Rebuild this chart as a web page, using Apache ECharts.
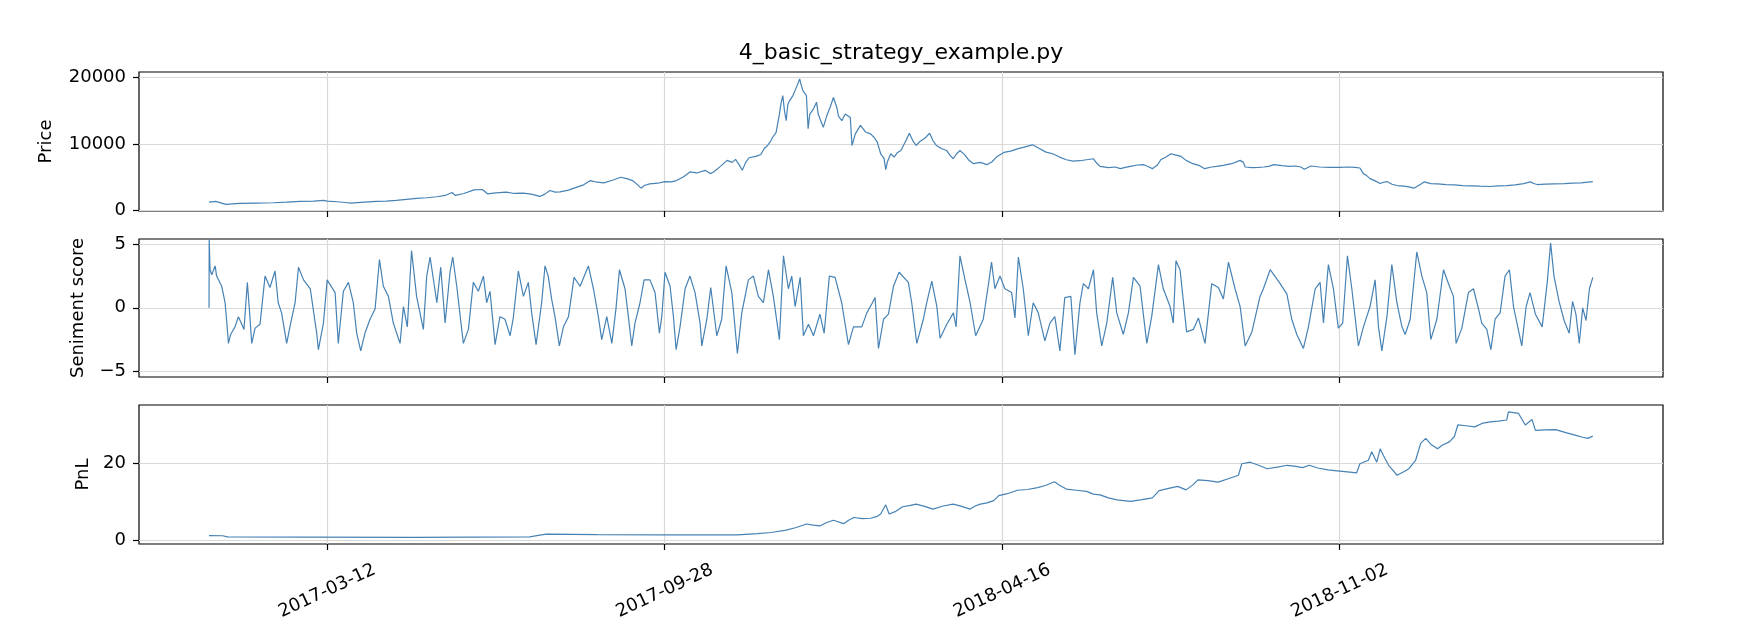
<!DOCTYPE html>
<html>
<head>
<meta charset="utf-8">
<script src="https://cdn.jsdelivr.net/npm/echarts@6.0.0/dist/echarts.min.js"></script>
<style>
html,body{margin:0;padding:0;background:#fff;}
#chart{width:1738px;height:642px;}
</style>
</head>
<body>
<div id="chart"></div>
<script>
// ---- data (x = days since 2017-01-01) ----
const titleText = '4_basic_strategy_example.py';
const xTickDays = [70, 270, 470, 670];
const xTickLabels = ['2017-03-12', '2017-09-28', '2018-04-16', '2018-11-02'];

const priceTicks = [0, 10000, 20000];
const sentTicks = [-5, 0, 5];
const pnlTicks = [0, 20];

const priceData = [
[0,1200],[4,1300],[10,850],[18,1000],[28,1050],[38,1100],[46,1180],[54,1300],[62,1350],[68,1450],[70,1350],[76,1250],[82,1100],[84,1050],[92,1200],[99,1300],[105,1350],[111,1450],[117,1600],[123,1750],[129,1850],[135,2000],[140,2200],[144,2650],[146,2200],[151,2500],[157,3050],[162,3100],[165,2450],[170,2600],[176,2700],[181,2500],[186,2550],[191,2400],[196,2050],[199,2400],[202,2950],[205,2700],[208,2750],[213,3000],[218,3450],[222,3800],[226,4450],[230,4200],[234,4100],[239,4500],[244,4950],[248,4700],[251,4450],[254,3800],[256,3300],[258,3700],[261,3950],[266,4050],[270,4300],[274,4250],[277,4450],[281,5000],[285,5750],[289,5600],[294,6000],[297,5500],[299,5750],[303,6600],[307,7500],[310,7200],[312,7650],[314,6900],[316,6000],[318,7200],[320,7900],[324,8100],[327,8400],[329,9300],[331,9750],[333,10500],[334,11000],[336,11700],[337,12000],[338,14500],[339,16200],[340,17300],[341,15000],[342,13500],[343,16000],[344,16500],[346,17300],[348,18500],[350,19800],[351,18800],[352,18000],[354,17300],[355,12300],[356,14500],[358,15200],[360,16300],[361,14500],[362,13800],[364,12500],[366,14200],[368,15500],[370,17000],[372,15500],[373,14200],[375,13500],[377,14500],[380,14000],[381,9750],[383,11500],[386,12800],[389,11800],[392,11500],[394,11000],[396,10250],[398,8500],[400,7800],[401,6100],[402,7300],[404,8500],[406,8000],[408,8700],[410,9000],[413,10500],[415,11600],[417,10500],[419,9750],[421,10300],[424,10800],[427,11600],[429,10500],[431,9750],[434,9300],[437,9000],[439,8300],[441,7750],[443,8500],[445,9000],[448,8300],[450,7600],[453,7000],[457,7200],[461,6850],[464,7300],[467,8100],[471,8700],[475,8900],[479,9250],[483,9500],[488,9850],[492,9300],[496,8750],[500,8500],[504,8000],[508,7600],[512,7400],[516,7450],[520,7600],[524,7750],[526,7100],[528,6600],[533,6400],[537,6500],[540,6250],[543,6450],[546,6600],[550,6800],[554,6850],[557,6500],[559,6250],[562,6800],[564,7600],[567,8000],[570,8500],[573,8300],[576,8100],[579,7500],[583,7000],[587,6700],[590,6250],[594,6500],[597,6600],[601,6750],[606,7000],[611,7500],[613,7200],[614,6500],[618,6400],[622,6450],[625,6500],[628,6600],[631,6850],[636,6700],[640,6600],[644,6650],[647,6500],[649,6150],[653,6650],[658,6500],[664,6450],[670,6450],[675,6500],[679,6450],[682,6350],[684,5500],[686,5200],[688,4750],[691,4400],[694,4000],[696,4200],[698,4300],[701,3900],[704,3700],[708,3600],[711,3500],[714,3300],[716,3600],[718,3900],[720,4250],[724,4000],[728,3950],[733,3850],[738,3800],[743,3700],[748,3650],[753,3600],[759,3550],[764,3650],[769,3700],[774,3800],[779,4000],[783,4250],[785,4000],[787,3850],[792,3900],[797,3950],[803,4000],[808,4050],[813,4100],[820,4300]
];

const sentimentData = [
[0,0],[0.1,5.4],[0.6,3.0],[1.6,2.6],[3.6,3.3],[4.5,2.5],[7.5,1.7],[9.5,0.4],[10.5,-1.1],[11.5,-2.8],[12.8,-2.1],[15.4,-1.5],[17.4,-0.7],[19.4,-1.3],[20.7,-1.7],[22.7,2.0],[23.9,-0.1],[25.3,-2.8],[27.3,-1.6],[30.2,-1.3],[33.2,2.5],[36.1,1.6],[39.1,2.9],[41,0.4],[43,-0.4],[46,-2.8],[48.4,-1.2],[51,0.4],[53,3.2],[56,2.2],[60,1.5],[63.8,-2.0],[64.8,-3.3],[67.8,-1.2],[70,2.2],[74.7,1.2],[76.6,-2.8],[79.6,1.3],[82.6,2.0],[85.5,0.4],[87.5,-2.0],[89.9,-3.4],[92.4,-2.0],[95.4,-0.9],[98.4,-0.1],[101,3.8],[103.3,1.7],[106.3,0.9],[109.2,-1.2],[113.2,-2.8],[115.2,0.1],[117.5,-1.5],[120,4.5],[123,0.9],[127,-1.7],[129,2.5],[131,4.0],[135,0.4],[137.3,3.2],[139.9,-1.2],[142.8,2.8],[144.4,4.0],[146.8,1.7],[150.7,-2.8],[153.7,-1.7],[156.6,2.0],[159.6,1.3],[162.6,2.5],[164.5,0.4],[166.5,1.3],[169.5,-2.9],[172.4,-0.7],[175.4,-0.9],[178.4,-2.2],[180.3,-0.8],[183.3,2.9],[186.3,0.9],[189.2,2.0],[191.2,-0.4],[193.8,-2.9],[197.1,0.4],[199.1,3.3],[201,2.5],[203,0.7],[205,-0.7],[207.6,-3.0],[210,-1.5],[213,-0.7],[216.3,2.4],[219.9,1.7],[224.8,3.3],[227.8,1.5],[230.7,-0.7],[232.7,-2.5],[235.7,-0.7],[238.7,-2.8],[241.2,0],[243.2,3.0],[246.5,1.5],[248.5,-0.7],[250.5,-3.0],[252.4,-1.2],[255.4,0.4],[257.8,2.2],[261.3,2.2],[264.3,1.2],[266.9,-2.0],[268.3,-0.7],[270.2,2.8],[273.2,1.7],[275.2,-0.7],[276.8,-3.3],[279.1,-1.5],[282.1,1.5],[285,2.5],[288,1.2],[291,-1.2],[292,-3.0],[295,-0.9],[297.3,1.6],[300.9,-2.2],[303.8,-0.9],[306.4,3.3],[309.8,1.2],[313.1,-3.6],[315.7,-0.4],[319.6,2.2],[322.6,2.5],[325.5,0.9],[328.5,0.4],[331.5,3.0],[334.4,0.9],[338,-2.5],[340.4,4.1],[343.3,1.5],[345.3,2.5],[347.3,0.1],[350.3,2.4],[352.2,-2.2],[355.2,-1.3],[358.2,-2.2],[362,-0.5],[364.5,-2.0],[367.6,2.5],[371,2.4],[374.9,0.4],[378.9,-2.9],[381.9,-1.5],[386.8,-1.5],[389.8,-0.4],[392.7,0.3],[394.7,0.8],[396.7,-3.2],[399.7,-0.9],[402.6,-0.5],[405.6,1.7],[408.9,2.8],[414.4,2.0],[416.4,0.4],[419.4,-2.8],[423.3,-0.9],[425.3,0.4],[428.3,2.1],[431.3,0.1],[433.2,-2.4],[437.2,-1.3],[441.1,-0.4],[442.7,-1.5],[445,4.1],[448,2.2],[451,0.4],[454.3,-2.2],[458.8,-0.9],[461.7,1.7],[463.7,3.6],[465.7,1.5],[468.7,2.5],[471.6,1.5],[475.6,1.2],[477.6,-0.8],[479.6,4.0],[482.5,1.5],[485.5,-2.2],[488.4,0.4],[491.4,-0.4],[495.3,-2.6],[498.3,-1.2],[501.2,-0.7],[504.2,-3.4],[507.1,0.8],[510.7,0.9],[513.1,-3.7],[516.1,0.4],[518.1,1.9],[521.1,1.5],[524.1,3.0],[526,-0.4],[529,-3.0],[532,-1.2],[535.5,2.4],[537.9,-0.4],[541.8,-2.1],[544.8,-0.4],[547.8,2.4],[551.7,1.7],[555.7,-2.8],[558.6,-0.7],[562.6,3.4],[565.5,1.5],[569.5,0.1],[571.4,-1.2],[573,3.7],[575.4,3.0],[579.3,-1.9],[583.3,-1.7],[586.3,-0.8],[590.2,-2.8],[594.2,1.9],[598.1,1.6],[601.1,0.7],[604.1,3.6],[608,1.5],[611,0.1],[614,-3.0],[618,-1.9],[622.8,0.9],[624.8,1.5],[628.8,3.0],[633.7,2.1],[638.7,1.1],[641.6,-0.9],[644.6,-2.1],[648.5,-3.2],[651.5,-1.5],[655.5,1.5],[658.4,2.0],[660.4,-1.2],[663.3,3.4],[666.3,1.5],[669.2,-1.6],[671.8,-1.2],[674.6,4.1],[677.2,1.5],[681.1,-3.0],[684.1,-1.5],[688,0.1],[691,2.2],[693,-1.5],[695,-3.4],[698,-0.7],[700.9,3.4],[703.9,0.4],[706.9,-1.5],[708.8,-2.1],[711.8,-0.9],[715.7,4.4],[718.7,2.5],[721.6,1.2],[724,-2.5],[727.6,-0.9],[731.5,3.0],[734.5,1.9],[737.4,0.9],[739,-2.8],[742.4,-1.6],[746.3,1.2],[749.3,1.5],[752.3,-0.1],[754.2,-1.2],[757.2,-1.7],[759.6,-3.3],[762.1,-0.9],[765.1,-0.4],[768,2.5],[770.6,3.0],[773,0.1],[777.9,-3.0],[780.5,0.1],[782.8,1.2],[786,-0.5],[790,-1.5],[793,2.0],[795,5.1],[797,2.5],[800,0.5],[803,-1.0],[806,-2.0],[808,0.5],[810,-0.5],[812,-2.8],[814,0],[816,-1.0],[818,1.5],[820,2.4]
];

const pnlData = [
[0,1.2],[8,1.15],[11,0.85],[60,0.8],[120,0.75],[190,0.85],[196,1.3],[200,1.55],[230,1.45],[269,1.4],[313,1.4],[325,1.7],[333,2.0],[342,2.6],[348,3.3],[354,4.2],[358,3.9],[362,3.7],[366,4.6],[370,5.2],[376,4.3],[379,5.2],[382,5.9],[387,5.6],[392,5.7],[396,6.2],[398,6.8],[401,9.2],[403,6.8],[407,7.5],[411,8.7],[415,9.0],[419,9.4],[424,8.8],[429,8.1],[435,8.9],[441,9.4],[446,8.8],[451,8.1],[454,8.9],[457,9.4],[461,9.7],[465,10.3],[468,11.6],[473,12.1],[479,13.0],[485,13.2],[491,13.7],[496,14.3],[501,15.2],[504,14.3],[508,13.3],[514,13.0],[520,12.7],[524,12.0],[528,11.8],[533,11.0],[538,10.5],[542,10.3],[546,10.1],[552,10.5],[559,11.0],[563,12.9],[568,13.4],[574,14.0],[579,13.1],[583,14.4],[586,15.7],[592,15.5],[598,15.1],[604,16.0],[610,16.9],[612,19.9],[617,20.3],[622,19.5],[627,18.6],[633,19.0],[639,19.5],[644,19.2],[648,18.9],[652,19.5],[657,18.8],[663,18.3],[670,18.0],[676,17.7],[680,17.5],[682,19.9],[687,20.8],[689,23.0],[692,20.3],[694,23.8],[696,22.0],[699,19.5],[702,18.0],[704,16.9],[708,17.8],[711,18.6],[715,20.8],[718,25.2],[721,26.5],[724,25.0],[728,23.8],[731,24.8],[735,25.6],[738,27.0],[740,30.0],[745,29.8],[750,29.5],[755,30.5],[759,30.8],[764,31.0],[769,31.3],[770,33.4],[773,33.2],[776,33.0],[778,31.5],[780,30.0],[784,31.4],[786,28.6],[792,28.7],[798,28.8],[804,28.0],[810,27.3],[814,26.8],[817,26.5],[820,27.1]
];

// ---- chart ----
const FONT = 'DejaVu Sans';
const LINE = '#4682b4';
const gridBase = { left: 139, width: 1524, show: true, borderColor: '#000', borderWidth: 1.2, backgroundColor: 'transparent' };
const grids = [
  Object.assign({ top: 72, height: 139 }, gridBase),
  Object.assign({ top: 239, height: 138 }, gridBase),
  Object.assign({ top: 405, height: 139 }, gridBase)
];

function minus(v) { return String(v).replace('-', '\u2212'); }

function makeX(i) {
  return {
    type: 'value', gridIndex: i, min: -41.5, max: 861.6, position: 'bottom',
    axisLine: { show: false, onZero: false },
    axisTick: { show: true, length: 6, customValues: xTickDays, lineStyle: { color: '#000', width: 1.2 } },
    splitLine: { show: true, lineStyle: { color: '#d9d9d9', width: 1.2 } },
    axisLabel: i === 2 ? {
      show: true, customValues: xTickDays,
      formatter: function (v) {
        let k = 0;
        for (let j = 0; j < xTickDays.length; j++) { if (Math.abs(xTickDays[j] - v) < 0.5) k = j; }
        return xTickLabels[k];
      },
      rotate: 25, align: 'center', verticalAlign: 'middle', margin: 47,
      fontSize: 18, color: '#000', fontFamily: FONT
    } : { show: false }
  };
}

function makeY(i, name, min, max, ticks, gap) {
  return {
    type: 'value', gridIndex: i, min: min, max: max, position: 'left',
    name: name, nameLocation: 'middle', nameGap: gap,
    nameTextStyle: { fontSize: 18, color: '#000', fontFamily: FONT },
    axisLine: { show: false, onZero: false },
    axisTick: { show: true, length: 6, customValues: ticks, lineStyle: { color: '#000', width: 1.2 } },
    splitLine: { show: true, lineStyle: { color: '#d9d9d9', width: 1.2 } },
    axisLabel: { show: true, customValues: ticks, formatter: minus, margin: 13, fontSize: 18, color: '#000', fontFamily: FONT }
  };
}

function makeSeries(i, data) {
  return {
    type: 'line', xAxisIndex: i, yAxisIndex: i, data: data,
    showSymbol: false, symbol: 'none', smooth: false, sampling: null,
    lineStyle: { color: LINE, width: 1.2 }, animation: false, z: 3
  };
}

const chart = echarts.init(document.getElementById('chart'), null, { renderer: 'canvas' });
chart.setOption({
  animation: false,
  backgroundColor: '#fff',
  textStyle: { fontFamily: FONT },
  title: {
    text: titleText, left: 901, top: 42, padding: 0, textAlign: 'center',
    textStyle: { fontSize: 22, fontWeight: 'normal', color: '#000', fontFamily: FONT }
  },
  grid: grids,
  xAxis: [makeX(0), makeX(1), makeX(2)],
  yAxis: [
    makeY(0, 'Price', -150, 20860, priceTicks, 84),
    makeY(1, 'Seniment score', -5.45, 5.42, sentTicks, 52),
    makeY(2, 'PnL', -1.0, 35.2, pnlTicks, 46)
  ],
  series: [makeSeries(0, priceData), makeSeries(1, sentimentData), makeSeries(2, pnlData)]
});
</script>
</body>
</html>
